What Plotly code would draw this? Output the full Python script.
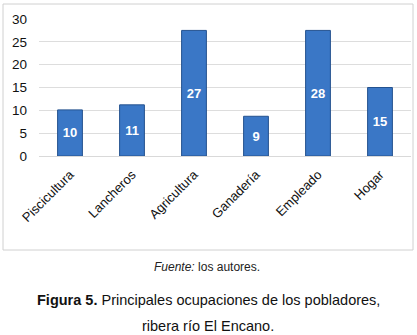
import plotly.graph_objects as go

categories = ["Piscicultura", "Lancheros", "Agricultura", "Ganadería", "Empleado", "Hogar"]
values = [10.1, 11.2, 27.5, 8.7, 27.5, 15.0]
labels = ["10", "11", "27", "9", "28", "15"]
y_ticks = [0, 5, 10, 15, 20, 25, 30]

W, H = 417, 335
L, R, T, B = 39, 6, 19, 179
pw = W - L - R
ph = H - T - B

def px(x):
    return (x - L) / pw

def py(y):
    return (H - B - y) / ph

fig = go.Figure(go.Bar(
    x=categories, y=values, text=labels,
    textposition="inside", insidetextanchor="middle",
    textfont=dict(family="Liberation Sans", size=13, color="white", weight="bold"),
    marker=dict(color="#3a77c6", line=dict(color="#24528f", width=1)),
    width=0.4,
))

fig.update_layout(
    width=W, height=H,
    margin=dict(l=L, r=R, t=T, b=B),
    plot_bgcolor="white", paper_bgcolor="white",
    font=dict(family="Liberation Sans", color="#111111"),
    showlegend=False,
    xaxis=dict(tickangle=-45, tickfont=dict(size=13), showgrid=False,
               showline=True, linecolor="#d9d9d9", ticks="",
               ticklabelstandoff=5),
    yaxis=dict(range=[0, 30], tickvals=y_ticks, tickfont=dict(size=13.5),
               showgrid=True, gridcolor="#dddddd", zeroline=False, ticks="",
               ticklabelstandoff=11),
    shapes=[dict(type="rect", xref="paper", yref="paper",
                 x0=px(3), x1=px(413), y0=py(250), y1=py(4),
                 line=dict(color="#d0d0d0", width=1), fillcolor="rgba(0,0,0,0)")],
    annotations=[
        dict(xref="paper", yref="paper", x=px(207), y=py(267), showarrow=False,
             text="<i>Fuente:</i> los autores.", font=dict(size=12, color="#222222"),
             xanchor="center", yanchor="middle"),
        dict(xref="paper", yref="paper", x=px(208), y=py(300), showarrow=False,
             text="<b>Figura 5.</b> Principales ocupaciones de los pobladores,",
             font=dict(size=14.5, color="#111111"), xanchor="center", yanchor="middle"),
        dict(xref="paper", yref="paper", x=px(208), y=py(326), showarrow=False,
             text="ribera río El Encano.",
             font=dict(size=14.5, color="#111111"), xanchor="center", yanchor="middle"),
    ],
)

fig.write_html("out.html", config={"displayModeBar": False},
               post_script="document.body.style.margin='0';document.body.style.padding='0';")
